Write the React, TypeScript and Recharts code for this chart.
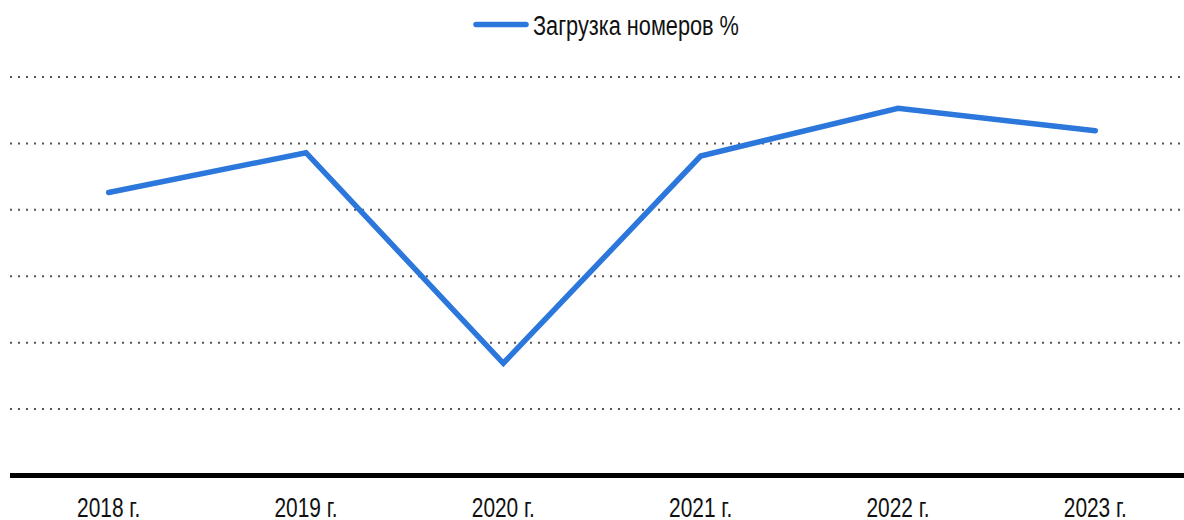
import { LineChart, Line, XAxis, YAxis, CartesianGrid } from "recharts"

const years = ["2018 г.", "2019 г.", "2020 г.", "2021 г.", "2022 г.", "2023 г."]
const occupancy = [42.6, 48.6, 16.9, 48.1, 55.3, 51.9]
const yTicks = [0, 10, 20, 30, 40, 50, 60]
const seriesName = "Загрузка номеров %"

const data = years.map((year, i) => ({ year, value: occupancy[i] }))

const FONT = "'Liberation Sans', Arial, sans-serif"
const BLUE = "#2b77dc"

// narrow, tall lettering like in the source picture
function YearTick({ x, y, payload }: { x?: number; y?: number; payload?: { value: string } }) {
  return (
    <text
      transform={`translate(${x}, ${(y ?? 0) + 41.5}) scale(0.76, 1)`}
      textAnchor="middle"
      fontFamily={FONT}
      fontSize={27.5}
      fill="#111"
    >
      {payload?.value}
    </text>
  )
}

function TopLegend() {
  return (
    <svg
      width={1184}
      height={50}
      style={{ position: "absolute", left: 0, top: 0, pointerEvents: "none" }}
    >
      <line x1={476} y1={24.5} x2={526} y2={24.5} stroke={BLUE} strokeWidth={5.5} strokeLinecap="round" />
      <text
        transform="translate(533, 35) scale(0.79, 1)"
        fontFamily={FONT}
        fontSize={27.5}
        fill="#111"
      >
        {seriesName}
      </text>
    </svg>
  )
}

export default function App() {
  return (
    <div style={{ position: "fixed", left: 0, top: 0, width: 1184, height: 520, overflow: "hidden", background: "#fff" }}>
      <LineChart
        width={1194}
        height={520}
        data={data}
        margin={{ top: 77, right: 0, left: 10, bottom: 0 }}
      >
        <CartesianGrid
          vertical={false}
          stroke="#555"
          strokeWidth={2}
          strokeDasharray="2 6"
        />
        <YAxis hide domain={[0, 60]} ticks={yTicks} />
        <XAxis
          dataKey="year"
          scale="band"
          height={44.5}
          axisLine={{ stroke: "#000", strokeWidth: 5 }}
          tickLine={false}
          tickSize={0}
          tickMargin={0}
          interval={0}
          tick={<YearTick />}
        />
        <Line
          type="linear"
          dataKey="value"
          name={seriesName}
          stroke={BLUE}
          strokeWidth={5.5}
          strokeLinecap="round"
          dot={false}
          activeDot={false}
          isAnimationActive={false}
        />
      </LineChart>
      <TopLegend />
    </div>
  )
}
